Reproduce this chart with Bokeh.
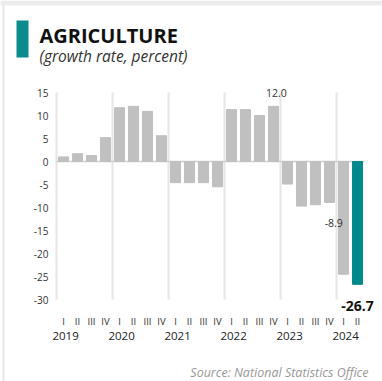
from bokeh.plotting import figure
from bokeh.models import Label, LabelSet, BoxAnnotation, ColumnDataSource
from bokeh.core.properties import value
from bokeh.embed import file_html
from bokeh.resources import INLINE

quarters = ["I", "II", "III", "IV"] * 5 + ["I", "II"]
years = ["2019", "2020", "2021", "2022", "2023", "2024"]
growth = [1.0, 1.7, 1.3, 5.2,
          11.7, 12.0, 10.9, 5.6,
          -4.6, -4.6, -4.6, -5.5,
          11.3, 11.3, 10.0, 12.0,
          -4.9, -9.7, -9.4, -8.9,
          -24.5, -26.7]
y_ticks = [15, 10, 5, 0, -5, -10, -15, -20, -25, -30]
y_tick_labels = ["15", "10", "5", "0", "-5", "-10", "-15", "-20", "-25", "-30"]
labelled = {15: "12.0", 19: "-8.9", 21: "-26.7"}

GRAY = "#c0c0c0"
TEAL = "#00898a"
FONT = "Open Sans"
W, H = 382, 381

# pixel geometry of the plotting area (frame spans the whole canvas)
PX_LEFT, PX_STEP = 56.0, 14.0        # left edge of first quarter slot, slot width
PX_ZERO, PX_UNIT = 161.0, 4.6        # y pixel of zero line, pixels per percent
x_start = -0.5 - PX_LEFT / PX_STEP
x_end = -0.5 + (W - PX_LEFT) / PX_STEP
y_end = PX_ZERO / PX_UNIT
y_start = -(H - PX_ZERO) / PX_UNIT

n = len(growth)
idx = list(range(n))
colors = [GRAY] * (n - 1) + [TEAL]
src = ColumnDataSource(dict(x=idx, top=growth, color=colors))

p = figure(width=W, height=H, x_range=(x_start, x_end), y_range=(y_start, y_end),
           output_backend="svg", toolbar_location=None,
           x_axis_location=None, y_axis_location=None, min_border=0)
p.outline_line_color = None
p.background_fill_color = "white"
p.border_fill_color = "white"
p.xgrid.visible = False
p.ygrid.visible = False

# card edges
p.add_layout(BoxAnnotation(left=0, right=W, top=H, bottom=H - 5,
                           left_units="screen", right_units="screen",
                           top_units="screen", bottom_units="screen",
                           fill_color="#ececec", fill_alpha=1, line_color=None))
p.add_layout(BoxAnnotation(left=2, right=4, top=H - 5, bottom=0,
                           left_units="screen", right_units="screen",
                           top_units="screen", bottom_units="screen",
                           fill_color="#e6e6e6", fill_alpha=1, line_color=None))

# year separators (vertical grid) and zero line
bounds = [k * 4 - 0.5 for k in range(len(years))]
p.segment(x0=bounds, x1=bounds, y0=[min(y_ticks)] * len(bounds), y1=[max(y_ticks)] * len(bounds),
          line_color="#e6e6e6", line_width=2)
p.segment(x0=[-0.5], x1=[n - 0.5], y0=[0], y1=[0], line_color="#cfcfcf", line_width=1.5)

p.vbar(x="x", top="top", bottom=0, width=0.72, color="color", source=src)

# y tick labels
ysrc = ColumnDataSource(dict(y=y_ticks, t=y_tick_labels))
p.add_layout(LabelSet(x=48, y="y", text="t", source=ysrc, x_units="screen", y_units="data",
                      text_align="right", text_baseline="middle", text_font=value(FONT),
                      text_font_size=value("10px"), text_color="#333333"))

# quarter labels
qsrc = ColumnDataSource(dict(x=idx, t=quarters))
p.add_layout(LabelSet(x="x", y=H - 321, text="t", source=qsrc, x_units="data", y_units="screen",
                      text_align="center", text_baseline="middle", text_font=value(FONT),
                      text_font_size=value("9.5px"), text_color="#333333"))

# year labels
ysrc2 = ColumnDataSource(dict(x=[k * 4 + 0.15 for k in range(len(years))], t=years))
p.add_layout(LabelSet(x="x", y=H - 335, text="t", source=ysrc2, x_units="data", y_units="screen",
                      text_align="center", text_baseline="middle", text_font=value(FONT),
                      text_font_size=value("11.5px"), text_color="#222222"))

# value labels
p.add_layout(Label(x=15 + 0.2, y=growth[15] + 3.0, text=labelled[15], text_align="center",
                   text_baseline="middle", text_font=FONT, text_font_size="10.5px",
                   text_color="#333333"))
p.add_layout(Label(x=19 + 0.3, y=growth[19] - 4.4, text=labelled[19], text_align="center",
                   text_baseline="middle", text_font=FONT, text_font_size="10.5px",
                   text_color="#333333"))
p.add_layout(Label(x=21, y=growth[21] - 4.8, text=labelled[21], text_align="center",
                   text_baseline="middle", text_font=FONT, text_font_size="14px",
                   text_font_style="bold", text_color="#111111"))

# header
p.add_layout(BoxAnnotation(left=16, right=28, top=H - 20, bottom=H - 57,
                           left_units="screen", right_units="screen",
                           top_units="screen", bottom_units="screen",
                           fill_color="#0b8b8b", fill_alpha=1, line_color=None))
p.add_layout(Label(x=39, y=H - 35, x_units="screen", y_units="screen",
                   text="AGRICULTURE", text_baseline="middle", text_font=FONT,
                   text_font_size="20px", text_font_style="bold", text_color="#111111"))
p.add_layout(Label(x=39, y=H - 55, x_units="screen", y_units="screen",
                   text="(growth rate, percent)", text_baseline="middle", text_font=FONT,
                   text_font_size="15.5px", text_font_style="italic", text_color="#333333"))
p.add_layout(Label(x=368, y=H - 372, x_units="screen", y_units="screen",
                   text="Source: National Statistics Office", text_align="right",
                   text_baseline="middle", text_font=FONT, text_font_size="12.5px",
                   text_font_style="italic", text_color="#999999"))

open("out.html", "w").write(file_html(p, INLINE))
